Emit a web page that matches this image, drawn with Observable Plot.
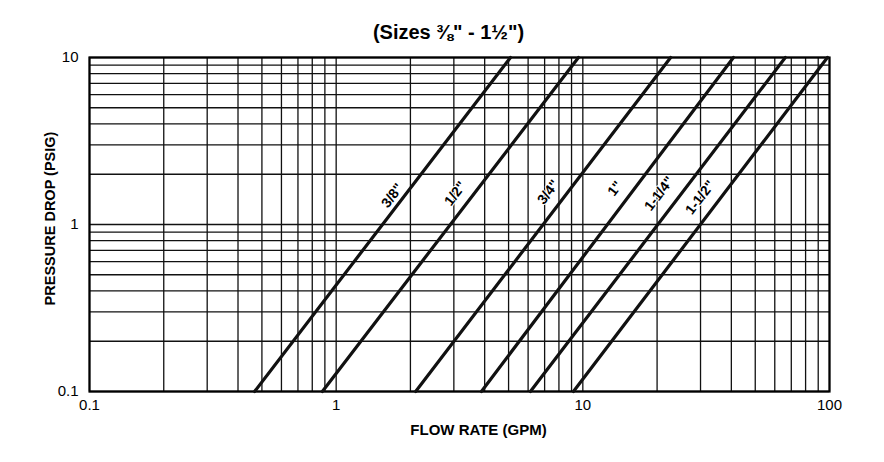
<!DOCTYPE html>
<html>
<head>
<meta charset="utf-8">
<script src="https://cdn.jsdelivr.net/npm/d3@7"></script>
<script src="https://cdn.jsdelivr.net/npm/@observablehq/plot@0.6"></script>
<style>
  body { margin: 0; background: #fff; }
</style>
</head>
<body>
<div id="chart"></div>
<script>
// Pipe sizes (one line each)
const sizes = ['3/8"', '1/2"', '3/4"', '1"', '1-1/4"', '1-1/2"'];
// Flow rate (GPM) read where each line meets 0.1 PSIG and 10 PSIG
const flowAtLowDrop  = [0.467, 0.879, 2.10, 3.88, 6.13, 9.16];
const flowAtHighDrop = [5.09, 9.60, 22.7, 40.8, 66.2, 98.1];
const dropRange = [0.1, 10];
// Where each size label sits (GPM, PSIG)
const labelFlow = [1.69, 3.04, 7.25, 13.5, 20.4, 29.9];
const labelDrop = [1.49, 1.53, 1.56, 1.64, 1.53, 1.45];
// Axes
const xDomain = [0.1, 100];
const yDomain = [0.1, 10];
const xTicks = [0.1, 1, 10, 100];
const yTicks = [0.1, 1, 10];
const titleText = '(Sizes \u215C" - 1\u00BD")';
const xLabel = "FLOW RATE (GPM)";
const yLabel = "PRESSURE DROP (PSIG)";

const xGrid = d3.scaleLog().domain(xDomain).ticks();
const yGrid = d3.scaleLog().domain(yDomain).ticks();

const curves = sizes.flatMap((s, i) => [
  {size: s, flow: flowAtLowDrop[i], drop: dropRange[0]},
  {size: s, flow: flowAtHighDrop[i], drop: dropRange[1]}
]);
const labels = sizes.map((s, i) => ({size: s, flow: labelFlow[i], drop: labelDrop[i]}));

const font = '"Liberation Sans", Arial, Helvetica, sans-serif';

const chart = Plot.plot({
  width: 884,
  height: 462,
  marginLeft: 89,
  marginRight: 55,
  marginTop: 57,
  marginBottom: 71,
  style: {fontFamily: font, fontSize: "15px", color: "#000", background: "#fff"},
  x: {type: "log", domain: xDomain, ticks: xTicks, tickFormat: d => String(d), tickSize: 0, tickPadding: 8, label: null},
  y: {type: "log", domain: yDomain, ticks: yTicks, tickFormat: d => String(d), tickSize: 0, tickPadding: 11, label: null},
  marks: [
    Plot.ruleX(xGrid, {stroke: "#111", strokeWidth: 1.3}),
    Plot.ruleY(yGrid, {stroke: "#111", strokeWidth: 1.3}),
    Plot.frame({stroke: "#000", strokeWidth: 2.2}),
    Plot.line(curves, {x: "flow", y: "drop", z: "size", stroke: "#111", strokeWidth: 3.2}),
    Plot.text(labels, {x: "flow", y: "drop", text: "size", rotate: -52.7, fontWeight: "bold", fontSize: 14, fill: "#000", stroke: "#fff", strokeWidth: 2}),
    Plot.text([titleText], {frameAnchor: "top", lineAnchor: "middle", dx: -11, dy: -25, text: d => d, fontSize: 20, fontWeight: "bold", fill: "#000"}),
    Plot.text([xLabel], {frameAnchor: "bottom", lineAnchor: "middle", dx: 19, dy: 39, text: d => d, fontSize: 15, fontWeight: "bold", fill: "#000"}),
    Plot.text([yLabel], {frameAnchor: "left", textAnchor: "middle", lineAnchor: "middle", dx: -39, dy: -6, rotate: -90, text: d => d, fontSize: 14.5, fontWeight: "bold", fill: "#000"})
  ]
});
document.getElementById("chart").appendChild(chart);
</script>
</body>
</html>
